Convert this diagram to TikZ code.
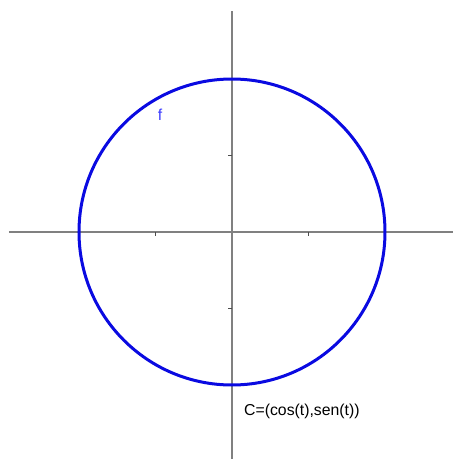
\documentclass[tikz,border=0pt]{standalone}
\usepackage{fontspec}
\setmainfont{Liberation Sans}
\usetikzlibrary{positioning}
\definecolor{axisgray}{RGB}{128,128,128}
\definecolor{curveblue}{RGB}{10,10,225}
\definecolor{labelblue}{RGB}{60,60,255}
\tikzstyle{axis} = [axisgray, line width=1.4pt]
\tikzstyle{tick} = [black!70, line width=1.2pt]
\tikzstyle{curve} = [curveblue, line width=3pt]
\tikzstyle{lbl} = [inner sep=0pt, font=\fontsize{15.8}{18}\selectfont]

\begin{document}
\begin{tikzpicture}[x=1pt, y=1pt]
    \useasboundingbox (-232,-227) rectangle (221,232);
    % Axes
    \coordinate (xmin) at (-223,0);
    \coordinate (xmax) at (221,0);
    \coordinate (ymin) at (0,-227);
    \coordinate (ymax) at (0,221);
    \draw [axis] (xmin) -- (xmax);
    \draw [axis] (ymin) -- (ymax);
    % Ticks
    \foreach \t in {-76.5,76.5} {
        \draw [tick] (\t,0) -- (\t,-3.5);
        \draw [tick] (0,\t) -- (-3.5,\t);
    }
    % Curve
    \coordinate (o) at (0,0);
    \draw [curve] (o) circle (153);
    % Labels
    \node (f) [lbl, text=labelblue] at (-72,117) {f};
    \node (c) [lbl, anchor=west] at (12,-179) {C=(cos(t),sen(t))};
\end{tikzpicture}
\end{document}
